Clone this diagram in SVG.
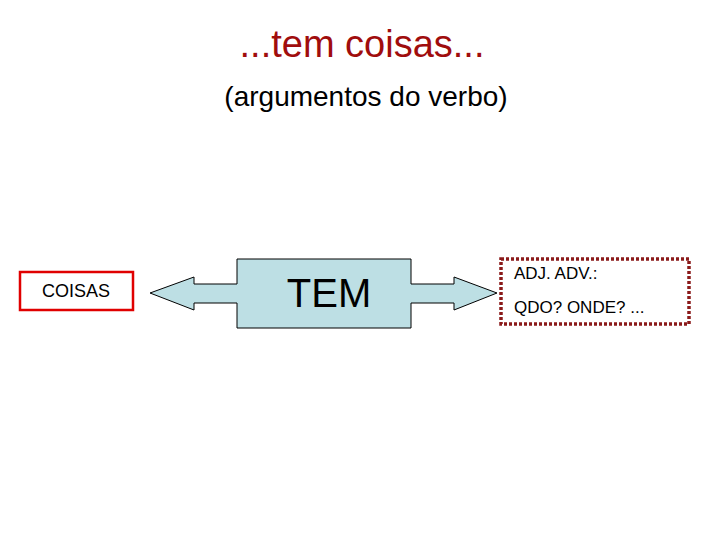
<svg xmlns="http://www.w3.org/2000/svg" width="720" height="540" viewBox="0 0 720 540">
<style>text{font-family:"Liberation Sans",Arial,sans-serif;fill:#000}</style>
<rect width="720" height="540" fill="#fff"/>
<g id="title"><text x="362" y="57" font-size="38" text-anchor="middle" style="fill:#a00d0d">...tem coisas...</text></g>
<g id="subtitle"><text x="366" y="106" font-size="28" text-anchor="middle">(argumentos do verbo)</text></g>
<g id="coisas"><rect x="20" y="272" width="113" height="38" fill="#fff" stroke="#e00000" stroke-width="2.5"/><text x="76" y="297" font-size="18" text-anchor="middle">COISAS</text></g>
<g id="connectors"></g>
<g id="tem"><path d="M150,293 L194,277 L194,284 L237,284 L237,259 L411,259 L411,284 L454,284 L454,277 L497,293 L454,310 L454,303 L411,303 L411,328 L237,328 L237,303 L194,303 L194,310 Z" fill="#bddfe4" stroke="#000" stroke-width="1"/><text x="329" y="307" font-size="40" text-anchor="middle">TEM</text></g>
<g id="adj"><rect x="501" y="259" width="188" height="65" fill="#fff" stroke="#8b1a1a" stroke-width="3.5" stroke-dasharray="3,2"/><text x="514" y="279" font-size="17">ADJ. ADV.:</text><text x="514" y="313" font-size="17">QDO? ONDE? ...</text></g>
</svg>
